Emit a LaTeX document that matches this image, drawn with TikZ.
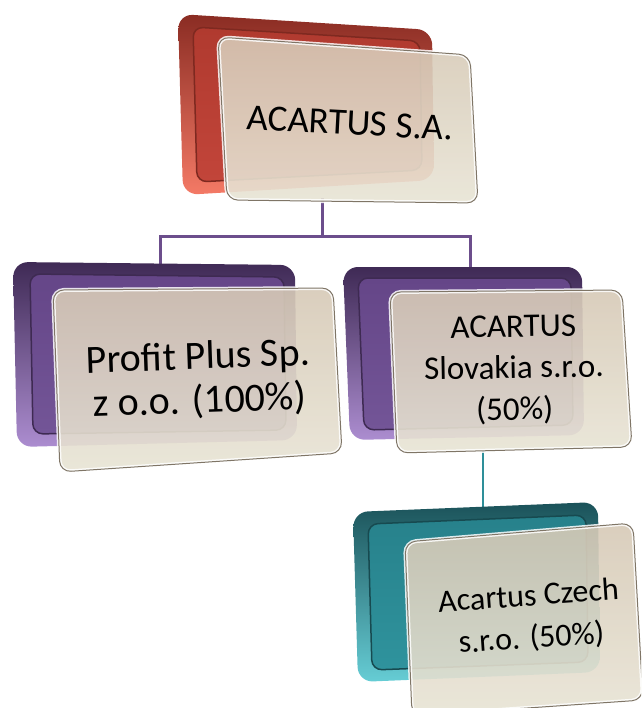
\documentclass[tikz,border=0pt]{standalone}
\usepackage{fontspec}
\setmainfont{Carlito}
\definecolor{redA}{HTML}{8A2C23}
\definecolor{redM}{HTML}{DE5A49}
\definecolor{redB}{HTML}{F47A66}
\definecolor{redC}{HTML}{B03A2F}
\definecolor{redD}{HTML}{C2453A}
\definecolor{redE}{HTML}{7E2920}
\definecolor{purA}{HTML}{3F2A55}
\definecolor{purM}{HTML}{8F6CB3}
\definecolor{purB}{HTML}{AC8DD0}
\definecolor{purC}{HTML}{654688}
\definecolor{purD}{HTML}{735597}
\definecolor{purE}{HTML}{3E2A52}
\definecolor{tealA}{HTML}{1B5259}
\definecolor{tealM}{HTML}{3FA9B3}
\definecolor{tealB}{HTML}{66CDD5}
\definecolor{tealC}{HTML}{27818B}
\definecolor{tealD}{HTML}{2F939D}
\definecolor{tealE}{HTML}{174A50}
\definecolor{frontTop}{HTML}{D6C9B6}
\definecolor{frontBot}{HTML}{E8E4D5}
\definecolor{frontEdge}{HTML}{7F7566}
\definecolor{lineP}{HTML}{6C4E8C}
\definecolor{lineT}{HTML}{2E8F99}
\begin{document}
\begin{tikzpicture}[x=1pt,y=-1pt,
  conn/.style={line width=3pt},
  backouter/.style n args={3}{rounded corners=15pt, top color=#1, middle color=#2, bottom color=#3},
  backinner/.style n args={3}{rounded corners=10pt, top color=#1, bottom color=#2,
     postaction={draw=#3, line width=1.5pt}},
  frontbox/.style={rounded corners=11pt, top color=frontTop, bottom color=frontBot,
     fill opacity=0.9,
     postaction={draw=white, line width=4pt, draw opacity=0.85},
     postaction={draw=frontEdge, line width=1pt}},
  txt/.style={align=center, text=black, inner sep=0pt}]
\useasboundingbox (0,0) rectangle (641,708);
\clip (0,0) rectangle (641,708);

% connectors
\coordinate (topB) at (322,198);
\coordinate (jn) at (322,237);
\coordinate (leftT) at (160,266);
\coordinate (rightT) at (470,270);
\coordinate (sloB) at (483,450);
\coordinate (czT) at (483,508);
\draw[conn, lineP] (topB) -- (jn) -| (leftT);
\draw[conn, lineP] (jn) -| (rightT);
\draw[conn, lineT, line width=2.5pt] (sloB) -- (czT);

% top box
\path[backouter={redA}{redM}{redB}] (178,14) -- (432,30) -- (434,180) -- (183,195) -- cycle;
\path[backinner={redC}{redD}{redE}] (193,27) -- (420,41) -- (422,170) -- (197,182) -- cycle;
\path[frontbox] (218,37) -- (470,55) -- (478,203) -- (227,200) -- cycle;

% left box
\path[backouter={purA}{purM}{purB}] (13,262) -- (295,265) -- (297,440) -- (17,447) -- cycle;
\path[backinner={purC}{purD}{purE}] (30,274) -- (284,277) -- (286,430) -- (33,434) -- cycle;
\path[frontbox] (53,290) -- (333,288) -- (342,453) -- (60,472) -- cycle;

% right box
\path[backouter={purA}{purM}{purB}] (343,267) -- (582,267) -- (584,435) -- (350,440) -- cycle;
\path[backinner={purC}{purD}{purE}] (358,278) -- (571,278) -- (573,425) -- (364,430) -- cycle;
\path[frontbox] (390,292) -- (622,290) -- (632,447) -- (397,453) -- cycle;

% bottom box
\path[backouter={tealA}{tealM}{tealB}] (353,512) -- (598,502) -- (600,672) -- (358,682) -- cycle;
\path[backinner={tealC}{tealD}{tealE}] (368,524) -- (586,515) -- (588,662) -- (372,670) -- cycle;
\path[frontbox] (405,542) -- (633,523) -- (643,700) -- (412,716) -- cycle;

% texts
\node[txt, font=\fontsize{37}{40}\selectfont, rotate=-3] (sa) at (350,123) {ACARTUS S.A.};
\node[txt, font=\fontsize{40}{44}\selectfont, rotate=2] (pp) at (199,380) {Profit Plus Sp.\\z o.o. (100\%)};
\node[txt, font=\fontsize{33}{41.5}\selectfont, rotate=1] (sk) at (514,370) {ACARTUS\\Slovakia s.r.o.\\(50\%)};
\node[txt, font=\fontsize{32}{42}\selectfont, rotate=4] (cz) at (530,618) {Acartus Czech\\s.r.o. (50\%)};
\end{tikzpicture}
\end{document}
